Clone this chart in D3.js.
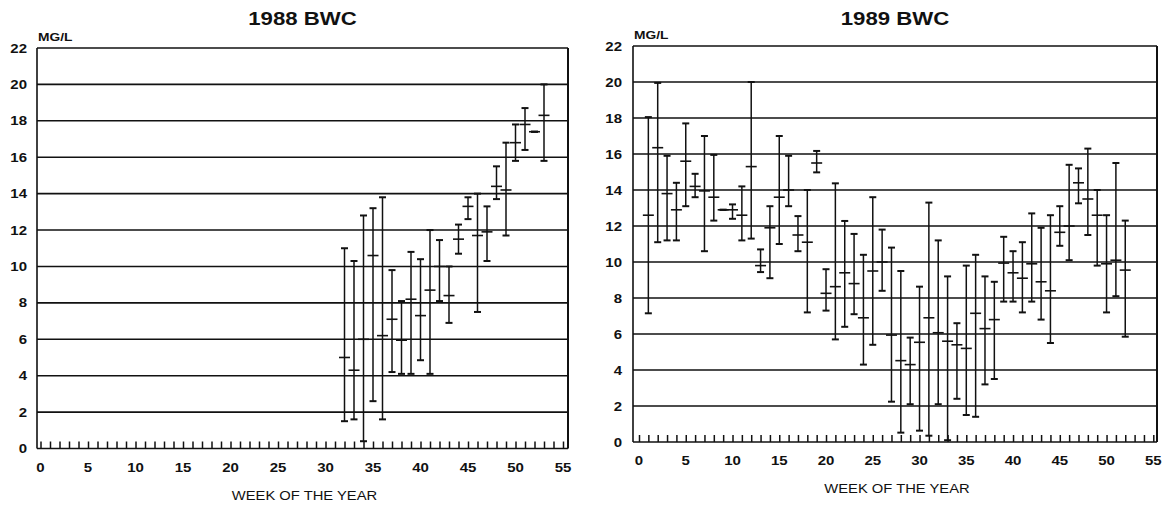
<!DOCTYPE html>
<html>
<head>
<meta charset="utf-8">
<script src="https://cdn.jsdelivr.net/npm/d3@7"></script>
<style>
  body { margin: 0; background: #fff; }
  svg { display: block; }
  text { font-family: "Liberation Sans", Arial, Helvetica, sans-serif; fill: #111; }
</style>
</head>
<body>
<svg id="chart" width="1168" height="505"></svg>
<script>
// ---------- data ----------
const yTicks = [0, 2, 4, 6, 8, 10, 12, 14, 16, 18, 20, 22];
const xTicks = [0, 5, 10, 15, 20, 25, 30, 35, 40, 45, 50, 55];
const yUnit = "MG/L";
const xTitle = "WEEK OF THE YEAR";
const titles = ["1988 BWC", "1989 BWC"];

const weeks1988 = [32, 33, 34, 35, 36, 37, 38, 39, 40, 41, 42, 43, 44, 45, 46, 47, 48, 49, 50, 51, 52, 53];
const min1988  = [1.5, 1.6, 0.4, 2.6, 1.6, 4.2, 4.1, 4.1, 4.85, 4.1, 8.1, 6.9, 10.7, 12.6, 7.5, 10.3, 13.7, 11.7, 15.8, 16.4, 17.4, 15.8];
const mean1988 = [5.0, 4.3, 6.0, 10.6, 6.2, 7.1, 5.95, 8.2, 7.3, 8.7, 10.0, 8.4, 11.5, 13.3, 11.7, 11.9, 14.4, 14.2, 16.8, 17.8, 17.4, 18.3];
const max1988  = [11.0, 10.3, 12.8, 13.2, 13.8, 9.8, 8.1, 10.8, 10.4, 12.0, 11.45, 10.0, 12.3, 13.8, 14.0, 13.3, 15.5, 16.8, 17.8, 18.7, 17.4, 20.0];

const weeks1989 = [1, 2, 3, 4, 5, 6, 7, 8, 9, 10, 11, 12, 13, 14, 15, 16, 17, 18, 19, 20, 21, 22, 23, 24, 25, 26,
                   27, 28, 29, 30, 31, 32, 33, 34, 35, 36, 37, 38, 39, 40, 41, 42, 43, 44, 45, 46, 47, 48, 49, 50, 51, 52];
const min1989  = [7.15, 11.1, 11.2, 11.2, 13.1, 13.6, 10.6, 12.3, 12.9, 12.4, 11.2, 11.3, 9.44, 9.1, 11.0, 13.1, 10.6, 7.2, 14.98, 7.3, 5.7, 6.4, 7.1, 4.3, 5.4, 8.4,
                  2.24, 0.52, 2.1, 0.63, 0.35, 2.1, 0.1, 2.4, 1.5, 1.4, 3.2, 3.5, 7.8, 7.8, 7.2, 7.8, 6.8, 5.5, 10.9, 10.1, 13.26, 11.5, 9.8, 7.2, 8.1, 5.85];
const mean1989 = [12.6, 16.35, 13.8, 12.9, 15.6, 14.2, 13.95, 13.6, 12.9, 12.9, 12.6, 15.3, 9.8, 11.9, 13.6, 14.0, 11.5, 11.1, 15.5, 8.26, 8.63, 9.4, 8.8, 6.9, 9.5, 10.0,
                  5.94, 4.52, 4.3, 5.54, 6.9, 6.07, 5.6, 5.4, 5.2, 7.15, 6.3, 6.8, 9.94, 9.4, 9.1, 9.9, 8.9, 8.4, 11.65, 12.0, 14.4, 13.5, 12.6, 9.9, 10.1, 9.55];
const max1989  = [18.05, 19.95, 15.9, 14.4, 17.7, 14.9, 17.0, 15.95, 12.9, 13.2, 14.2, 20.0, 10.7, 13.1, 17.0, 15.9, 12.55, 14.0, 16.17, 9.6, 14.37, 12.28, 11.56, 10.4, 13.6, 11.8,
                  10.8, 9.5, 5.8, 8.63, 13.3, 11.2, 9.2, 6.6, 9.8, 10.4, 9.2, 8.9, 11.4, 10.6, 11.1, 12.7, 11.9, 12.6, 13.1, 15.4, 15.2, 16.3, 14.0, 12.6, 15.5, 12.3];

// ---------- layout ----------
const svg = d3.select("#chart");
const ink = "#111";
const SX = 1.2; // the scanned lettering is horizontally wide

const panels = [
  { title: titles[0], weeks: weeks1988, mins: min1988, means: mean1988, maxs: max1988,
    x0: 40.5, x55: 563, frameL: 37, frameR: 568, yBottom: 448.5, yTop: 48, labelRight: 27, unitX: 38 },
  { title: titles[1], weeks: weeks1989, mins: min1989, means: mean1989, maxs: max1989,
    x0: 639, x55: 1153.3, frameL: 633, frameR: 1157, yBottom: 442, yTop: 46, labelRight: 622, unitX: 634 }
];

function stretchedText(g, x, y, str, size, anchor, weight) {
  g.append("text")
    .attr("transform", `translate(${x},${y}) scale(${SX},1)`)
    .attr("text-anchor", anchor)
    .attr("font-size", size)
    .attr("font-weight", weight || "normal")
    .text(str);
}

panels.forEach(p => {
  const g = svg.append("g");
  const x = d3.scaleLinear().domain([0, 55]).range([p.x0, p.x55]);
  const y = d3.scaleLinear().domain([0, 22]).range([p.yBottom, p.yTop]);

  // horizontal grid lines (including frame top and bottom)
  g.append("g").selectAll("line").data(yTicks).join("line")
    .attr("x1", p.frameL).attr("x2", p.frameR)
    .attr("y1", d => y(d)).attr("y2", d => y(d))
    .attr("stroke", ink).attr("stroke-width", 1.6);

  // frame sides
  g.append("line").attr("x1", p.frameL).attr("x2", p.frameL)
    .attr("y1", y(22)).attr("y2", y(0)).attr("stroke", ink).attr("stroke-width", 1.6);
  g.append("line").attr("x1", p.frameR).attr("x2", p.frameR)
    .attr("y1", y(22)).attr("y2", y(0)).attr("stroke", ink).attr("stroke-width", 2);

  // week ticks along the bottom
  const axis = d3.axisTop(x).tickValues(d3.range(0, 56)).tickSize(7).tickFormat("");
  const ax = g.append("g").attr("transform", `translate(0,${y(0)})`).call(axis);
  ax.select(".domain").remove();
  ax.selectAll(".tick line").attr("stroke", ink).attr("stroke-width", 1.5);

  // y tick labels
  yTicks.forEach(t => stretchedText(g, p.labelRight, y(t) + 4.6, String(t), 12.5, "end", "bold"));
  // x tick labels
  xTicks.forEach(t => stretchedText(g, x(t), y(0) + 23, String(t), 12.5, "middle", "bold"));

  // unit, title, axis title
  stretchedText(g, p.unitX, y(22) - 7, yUnit, 11.5, "start", "bold");
  stretchedText(g, (p.frameL + p.frameR) / 2, 25, p.title, 18.5, "middle", "900");
  stretchedText(g, (p.frameL + p.frameR) / 2 + 2, y(0) + 51, xTitle, 12.3, "middle", "normal");

  // error bars
  const rows = p.weeks.map((w, i) => ({ w, lo: p.mins[i], m: p.means[i], hi: p.maxs[i] }));
  const bars = g.append("g").selectAll("g").data(rows).join("g");
  bars.append("line")
    .attr("x1", d => x(d.w)).attr("x2", d => x(d.w))
    .attr("y1", d => y(d.lo)).attr("y2", d => y(d.hi))
    .attr("stroke", ink).attr("stroke-width", 1.5);
  bars.append("line")
    .attr("x1", d => x(d.w) - 3.5).attr("x2", d => x(d.w) + 3.5)
    .attr("y1", d => y(d.lo)).attr("y2", d => y(d.lo))
    .attr("stroke", ink).attr("stroke-width", 2);
  bars.append("line")
    .attr("x1", d => x(d.w) - 3.5).attr("x2", d => x(d.w) + 3.5)
    .attr("y1", d => y(d.hi)).attr("y2", d => y(d.hi))
    .attr("stroke", ink).attr("stroke-width", 2);
  bars.append("line")
    .attr("x1", d => x(d.w) - 5.5).attr("x2", d => x(d.w) + 5.5)
    .attr("y1", d => y(d.m)).attr("y2", d => y(d.m))
    .attr("stroke", ink).attr("stroke-width", 1.6);
});
</script>
</body>
</html>
